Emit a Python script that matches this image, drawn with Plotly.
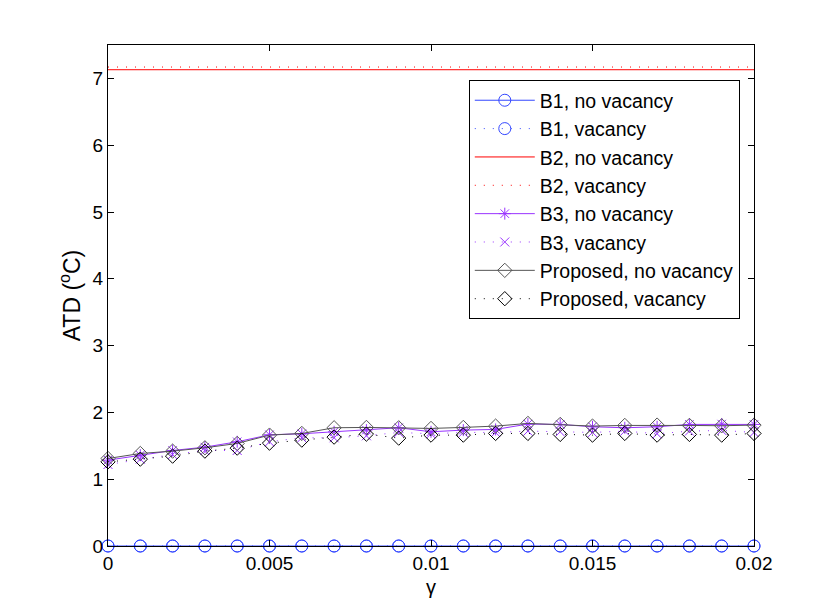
import plotly.graph_objects as go

gamma = [0.000, 0.001, 0.002, 0.003, 0.004, 0.005, 0.006, 0.007, 0.008, 0.009, 0.010,
         0.011, 0.012, 0.013, 0.014, 0.015, 0.016, 0.017, 0.018, 0.019, 0.020]

b1_novac = [0, 0, 0, 0, 0, 0, 0, 0, 0, 0, 0, 0, 0, 0, 0, 0, 0, 0, 0, 0, 0]
b1_vac = [0, 0, 0, 0, 0, 0, 0, 0, 0, 0, 0, 0, 0, 0, 0, 0, 0, 0, 0, 0, 0]
b2_novac = [7.13, 7.13, 7.13, 7.13, 7.13, 7.13, 7.13, 7.13, 7.13, 7.13, 7.13,
            7.13, 7.13, 7.13, 7.13, 7.13, 7.13, 7.13, 7.13, 7.13, 7.13]
b2_vac = [7.17, 7.17, 7.17, 7.17, 7.17, 7.17, 7.17, 7.17, 7.17, 7.17, 7.17,
          7.17, 7.17, 7.17, 7.17, 7.17, 7.17, 7.17, 7.17, 7.17, 7.17]
b3_novac = [1.285, 1.36, 1.43, 1.48, 1.56, 1.665, 1.68, 1.71, 1.735, 1.77, 1.71,
            1.735, 1.745, 1.825, 1.82, 1.785, 1.77, 1.785, 1.82, 1.825, 1.82]
b3_vac = [1.22, 1.30, 1.37, 1.43, 1.43, 1.56, 1.62, 1.62, 1.65, 1.70, 1.68,
          1.70, 1.70, 1.72, 1.71, 1.70, 1.72, 1.68, 1.72, 1.73, 1.70]
prop_novac = [1.31, 1.385, 1.42, 1.47, 1.535, 1.66, 1.685, 1.77, 1.775, 1.77, 1.76,
              1.775, 1.795, 1.835, 1.82, 1.795, 1.805, 1.81, 1.805, 1.80, 1.81]
prop_vac = [1.26, 1.30, 1.345, 1.42, 1.465, 1.54, 1.585, 1.63, 1.675, 1.615, 1.66,
            1.66, 1.685, 1.685, 1.67, 1.66, 1.685, 1.66, 1.67, 1.66, 1.685]

x_ticks = [0, 0.005, 0.01, 0.015, 0.02]
x_tick_labels = ["0", "0.005", "0.01", "0.015", "0.02"]
y_ticks = [0, 1, 2, 3, 4, 5, 6, 7]

BLUE = "#3347ff"
RED = "#ff0000"
PURPLE = "#9933ff"
GRAY = "#555555"
BLACK = "#000000"
DOT = "1px,8px"

series = [
    ("B1, no vacancy", b1_novac, BLUE, "solid", "lines+markers", "circle-open", 12),
    ("B1, vacancy", b1_vac, BLUE, DOT, "lines+markers", "circle-open", 12),
    ("B2, no vacancy", b2_novac, RED, "solid", "lines", None, 0),
    ("B2, vacancy", b2_vac, RED, DOT, "lines", None, 0),
    ("B3, no vacancy", b3_novac, PURPLE, "solid", "lines+markers", "asterisk-open", 10),
    ("B3, vacancy", b3_vac, PURPLE, DOT, "lines+markers", "x-thin-open", 9),
    ("Proposed, no vacancy", prop_novac, GRAY, "solid", "lines+markers", "diamond-open", 11),
    ("Proposed, vacancy", prop_vac, BLACK, DOT, "lines+markers", "diamond-open", 11),
]

fig = go.Figure()
for i, (name, ys, color, dash, mode, sym, size) in enumerate(series):
    kw = dict(
        x=gamma, y=ys, name=name, mode=mode,
        line=dict(color=color, width=1, dash=dash),
        cliponaxis=False, legendgroup=f"g{i}",
    )
    if sym:
        kw["marker"] = dict(symbol=sym, size=size, color=color,
                            line=dict(color=color, width=1))
    fig.add_trace(go.Scatter(**kw))

FONT = "Liberation Sans, Arial"
axis_common = dict(
    showline=True, linecolor="black", linewidth=1, mirror="ticks",
    ticks="inside", ticklen=6, tickcolor="black", showgrid=False, zeroline=False,
    tickfont=dict(family=FONT, size=19, color="black"),
)

fig.update_layout(
    width=830, height=614,
    margin=dict(l=100, r=84, t=37, b=76),
    paper_bgcolor="white", plot_bgcolor="white",
    font=dict(family=FONT, size=19, color="black"),
    xaxis=dict(range=[0, 0.02], tickvals=x_ticks, ticktext=x_tick_labels, **axis_common),
    yaxis=dict(range=[0, 7.5], tickvals=y_ticks,
               title=dict(text="ATD (<sup>o</sup>C)", standoff=5), **axis_common),
    legend=dict(
        x=0.978, y=0.930, xanchor="right", yanchor="top",
        bordercolor="black", borderwidth=1, bgcolor="white",
        font=dict(family=FONT, size=19.5, color="black"),
        tracegroupgap=0, itemwidth=60,
    ),
    annotations=[dict(
        text="γ", xref="paper", yref="paper", x=0.5, y=-0.082,
        xanchor="center", yanchor="middle", showarrow=False,
        font=dict(family=FONT, size=20, color="black"),
    )],
    showlegend=True,
)

fig.write_html("out.html")
